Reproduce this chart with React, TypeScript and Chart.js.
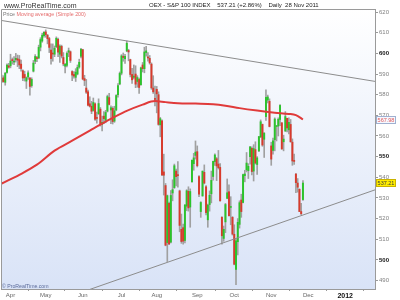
import React, { useEffect, useRef } from "react";
import { Chart, registerables } from "chart.js";

Chart.register(...registerables);

// First candle (25 Mar 2011) sits at trading-day index -5 (1 Apr 2011 = 0)
const firstIndex = -5;

const opens = [
  586.5, 588.2, 586.0, 590.8, 594.0,
  594.0, 596.6, 595.8, 597.0, 597.4, 597.0, 594.8, 591.6, 589.8, 586.6, 588.6, 588.0, 584.4, 591.4, 596.2, 598.0, 597.8, 603.0, 606.0, 608.6,
  610.4, 608.8, 607.2, 601.6, 600.0, 599.6, 603.2, 606.8, 599.6, 603.4, 598.0, 593.8, 594.2, 600.6, 600.8, 591.2, 589.8, 588.4, 590.0, 593.4, 598.6,
  601.8, 587.8, 583.2, 581.4, 575.6, 574.4, 572.4, 575.6, 568.6, 570.8, 573.0, 565.6, 569.6, 567.6, 572.0, 578.6, 572.6, 573.4, 567.2, 572.6, 580.0, 585.2,
  590.4, 598.6, 597.4, 601.2, 601.4, 597.0, 589.8, 588.4, 590.0, 586.4, 587.4, 584.8, 594.4, 592.6, 600.4, 598.0, 597.6, 594.8, 583.2, 578.0,
  582.6, 580.0, 565.4, 567.4, 542.6, 536.0, 508.4, 527.4, 508.6, 532.4, 535.0, 543.0, 541.0, 533.4, 514.8, 515.6, 509.4, 526.0, 533.2, 525.6, 537.8, 546.6, 550.6,
  552.4, 540.4, 523.4, 531.0, 542.4, 535.4, 519.4, 526.8, 532.0, 540.4, 547.6, 549.0, 546.4, 544.8, 520.6, 510.4, 518.4, 529.8, 533.0, 525.4, 520.6,
  512.4, 495.4, 508.8, 517.2, 529.0, 527.8, 540.8, 543.6, 543.2, 550.0, 554.0, 543.0, 553.4, 546.2, 552.8, 559.6, 565.6, 558.4, 569.4, 577.4, 576.8,
  555.2, 553.0, 558.2, 564.6, 564.8, 568.0, 566.4, 557.2, 562.4, 568.6, 563.0, 565.6, 557.0, 548.0, 541.6, 537.2, 534.2, 523.4, 529.2,
];

const highs = [
  589.5, 589.2, 590.8, 595.0, 595.2,
  599.6, 597.8, 598.4, 600.0, 599.2, 599.0, 596.8, 592.0, 591.4, 588.6, 591.6, 588.4, 588.2, 596.6, 599.4, 598.6, 604.0, 607.6, 609.8, 610.6,
  611.4, 609.2, 607.8, 604.6, 604.6, 603.6, 608.0, 607.4, 604.2, 604.0, 600.4, 595.2, 600.8, 602.6, 601.2, 591.6, 591.2, 592.6, 594.4, 597.2, 602.4,
  602.0, 589.4, 587.4, 582.2, 579.0, 576.8, 578.4, 576.0, 571.6, 578.0, 573.8, 569.6, 571.8, 572.4, 579.8, 580.6, 574.6, 574.2, 574.4, 580.0, 585.4, 591.0,
  599.4, 600.2, 599.6, 606.0, 602.0, 597.2, 592.8, 594.4, 594.0, 589.2, 588.0, 593.4, 595.6, 603.0, 603.4, 600.4, 599.0, 595.4, 589.2, 584.2,
  584.0, 581.4, 569.0, 567.8, 551.2, 537.0, 531.4, 528.0, 533.6, 538.8, 546.4, 544.0, 547.6, 533.8, 522.2, 517.4, 526.8, 534.0, 535.4, 534.4, 548.4, 551.6, 557.6,
  555.2, 540.8, 528.2, 543.0, 546.0, 536.0, 527.0, 533.4, 543.0, 547.8, 551.4, 549.6, 553.0, 546.6, 521.0, 516.4, 527.4, 539.2, 536.4, 530.6, 521.0,
  517.0, 510.4, 520.0, 528.6, 531.8, 541.6, 543.4, 552.0, 546.6, 555.0, 554.8, 555.8, 557.2, 550.0, 559.8, 567.8, 565.8, 561.6, 582.4, 579.8, 578.0,
  557.0, 559.0, 568.8, 564.6, 568.8, 575.2, 566.4, 560.4, 571.8, 568.6, 568.8, 568.0, 558.6, 551.2, 541.8, 539.4, 534.4, 527.4, 538.4,
];

const lows = [
  585.8, 586.0, 584.6, 590.4, 592.8,
  593.0, 594.8, 594.6, 595.8, 593.6, 592.6, 591.4, 586.8, 586.6, 583.0, 587.4, 579.8, 583.6, 591.0, 595.0, 596.0, 597.4, 601.2, 605.4, 607.8,
  607.8, 604.6, 600.4, 594.8, 596.2, 598.4, 602.8, 598.4, 595.6, 597.8, 594.0, 590.6, 593.4, 598.4, 595.6, 586.8, 588.0, 586.4, 589.6, 592.8, 597.8,
  587.2, 584.4, 580.6, 574.6, 574.0, 570.8, 572.0, 567.6, 566.2, 570.4, 564.8, 562.4, 566.0, 566.4, 571.6, 575.0, 566.0, 565.8, 566.6, 572.2, 578.8, 584.8,
  589.6, 596.2, 595.2, 600.8, 596.4, 588.6, 585.4, 587.6, 583.4, 583.6, 580.6, 584.6, 591.0, 590.6, 598.6, 596.2, 594.8, 582.6, 580.6, 574.6,
  571.2, 565.2, 559.6, 540.8, 531.4, 506.8, 499.2, 507.4, 508.2, 528.6, 534.6, 535.8, 535.2, 513.6, 508.0, 507.6, 508.2, 523.8, 523.6, 515.8, 537.6, 543.4, 548.8,
  545.0, 530.6, 520.6, 530.8, 536.8, 521.8, 515.8, 523.6, 527.6, 538.6, 545.8, 538.4, 544.0, 528.4, 507.6, 509.0, 513.2, 529.6, 521.2, 517.0, 512.0,
  497.6, 488.0, 502.4, 515.4, 520.6, 527.6, 537.8, 542.6, 539.4, 546.4, 541.2, 538.2, 546.4, 541.4, 552.4, 559.2, 555.0, 549.6, 567.6, 576.0, 564.4,
  545.8, 551.2, 552.8, 557.6, 560.0, 565.0, 553.6, 552.8, 562.2, 562.0, 561.0, 557.0, 545.8, 546.2, 532.6, 532.8, 523.4, 522.0, 528.8,
];

const closes = [
  587.9, 586.3, 590.4, 594.4, 593.3,
  596.3, 596.5, 596.3, 597.6, 596.7, 594.4, 592.7, 588.1, 588.2, 588.2, 590.6, 584.0, 587.4, 595.3, 598.5, 597.5, 602.9, 606.7, 608.8, 610.2,
  609.1, 607.1, 602.9, 597.5, 599.7, 602.5, 607.3, 600.6, 603.5, 598.7, 594.9, 594.7, 600.0, 601.3, 596.6, 589.5, 589.0, 590.9, 593.2, 595.7, 602.0,
  587.6, 586.9, 581.2, 574.9, 574.4, 572.0, 576.2, 568.1, 568.5, 575.7, 565.6, 566.6, 568.4, 571.4, 579.1, 575.3, 573.7, 567.0, 572.2, 579.6, 584.4, 590.3,
  598.8, 598.0, 598.6, 604.9, 600.7, 589.8, 587.2, 589.0, 585.1, 588.3, 583.5, 593.0, 592.6, 600.7, 601.2, 597.8, 595.4, 583.3, 581.4, 577.7,
  580.4, 565.6, 568.4, 541.2, 541.0, 507.1, 531.1, 507.7, 531.2, 534.0, 545.6, 540.3, 540.8, 516.7, 508.9, 509.1, 526.6, 533.5, 525.2, 533.1, 548.2, 549.4, 552.2,
  545.6, 531.8, 527.8, 543.0, 537.2, 522.9, 526.5, 531.3, 538.5, 547.7, 550.8, 545.5, 544.6, 528.6, 511.7, 514.8, 526.8, 532.5, 521.4, 525.7, 512.5,
  497.9, 509.2, 518.2, 527.7, 523.4, 541.3, 541.6, 546.9, 545.3, 554.7, 542.8, 553.9, 546.9, 549.4, 559.7, 566.9, 555.6, 561.4, 578.7, 578.9, 564.6,
  548.8, 557.7, 568.2, 564.6, 568.1, 574.8, 553.7, 558.5, 569.4, 563.9, 566.6, 557.2, 547.9, 547.7, 537.4, 535.2, 523.4, 522.3, 537.21,
];

// 200-day simple moving average, read at a few trading-day positions
const maIdx = [-5, 5, 15, 25, 35, 45, 55, 65, 75, 82, 88, 95, 105, 115, 122, 130, 140, 150, 158, 162, 166];
const maVals = [537.0, 541.2, 546.1, 552.9, 557.7, 562.6, 567.4, 571.8, 575.2, 576.9, 576.4, 575.9, 575.7, 575.4, 574.7, 573.5, 572.3, 571.3, 570.7, 570.1, 567.98];

// Trend lines (end points)
const upperTrendIdx = [-6.3, 207.2];
const upperTrendVals = [616.1, 586.4];
const lowerTrendIdx = [40, 207.2];
const lowerTrendVals = [484.2, 534.0];

// Axis ticks
const monthTickIdx = [0, 20, 41, 63, 83, 106, 127, 148, 169, 190];
const monthLabels = ["Apr", "May", "Jun", "Jul", "Aug", "Sep", "Oct", "Nov", "Dec", "2012"];
const yTickVals = [490, 500, 510, 520, 530, 540, 550, 560, 570, 580, 590, 600, 610, 620];

const lastPrice = 537.21;
const lastMA = 567.98;

const UP = "#2bc42b";
const DOWN = "#d83a2c";
const WICK = "#a0a0a0";
const FONT = "'Liberation Sans', Arial, sans-serif";

export default function App() {
  const canvasRef = useRef<HTMLCanvasElement | null>(null);

  useEffect(() => {
    const canvas = canvasRef.current;
    if (!canvas) return;

    const wicks = highs.map((h, i) => ({ x: firstIndex + i, y: [lows[i], h] }));
    const bodies = opens.map((o, i) => ({ x: firstIndex + i, y: [o, closes[i]] }));

    const bgPlugin = {
      id: "bgGradient",
      beforeDraw(chart: any) {
        const { ctx, chartArea } = chart;
        const g = ctx.createLinearGradient(0, chartArea.top, 0, chartArea.bottom);
        g.addColorStop(0, "#ffffff");
        g.addColorStop(1, "#d9e3f7");
        ctx.save();
        ctx.fillStyle = g;
        ctx.fillRect(chartArea.left, chartArea.top, chartArea.right - chartArea.left, chartArea.bottom - chartArea.top);
        ctx.restore();
      },
      afterDraw(chart: any) {
        const { ctx, chartArea } = chart;
        ctx.save();
        ctx.strokeStyle = "#9a9a9a";
        ctx.lineWidth = 1;
        ctx.beginPath();
        ctx.moveTo(chartArea.left + 0.5, chartArea.bottom);
        ctx.lineTo(chartArea.left + 0.5, chartArea.top + 0.5);
        ctx.lineTo(chartArea.right, chartArea.top + 0.5);
        ctx.stroke();
        // price boxes on the right axis
        const y = chart.scales.y;
        const boxes = [
          { v: lastMA, fill: "#f6f8ff", stroke: "#9fb0d0", color: "#e05858" },
          { v: lastPrice, fill: "#ffee00", stroke: "#c9b200", color: "#3a3a3a" },
        ];
        ctx.font = `5.5px ${FONT}`;
        ctx.textAlign = "center";
        ctx.textBaseline = "middle";
        for (const b of boxes) {
          const py = Math.round(y.getPixelForValue(b.v));
          ctx.fillStyle = b.fill;
          ctx.fillRect(376.5, py - 3.5, 19, 7);
          ctx.strokeStyle = b.stroke;
          ctx.strokeRect(376.5, py - 3.5, 19, 7);
          ctx.fillStyle = b.color;
          ctx.fillText(b.v.toFixed(2), 386, py + 0.5);
        }
        ctx.restore();
      },
    };

    const chart = new Chart(canvas, {
      type: "bar",
      data: {
        datasets: [
          {
            type: "line",
            data: maIdx.map((x, i) => ({ x, y: maVals[i] })),
            borderColor: "#e03a3a",
            borderWidth: 2,
            pointRadius: 0,
            cubicInterpolationMode: "monotone",
            order: 0,
          } as any,
          {
            type: "line",
            data: upperTrendIdx.map((x, i) => ({ x, y: upperTrendVals[i] })),
            borderColor: "#8c8c8c",
            borderWidth: 1,
            pointRadius: 0,
            order: 1,
          } as any,
          {
            type: "line",
            data: lowerTrendIdx.map((x, i) => ({ x, y: lowerTrendVals[i] })),
            borderColor: "#8c8c8c",
            borderWidth: 1,
            pointRadius: 0,
            order: 1,
          } as any,
          {
            type: "bar",
            data: bodies,
            backgroundColor: (ctx: any) => {
              const i = ctx.dataIndex;
              return closes[i] >= opens[i] ? UP : DOWN;
            },
            barThickness: 1.3,
            minBarLength: 1,
            grouped: false,
            order: 2,
          } as any,
          {
            type: "bar",
            data: wicks,
            backgroundColor: WICK,
            barThickness: 1,
            grouped: false,
            order: 3,
          } as any,
        ],
      },
      options: {
        responsive: false,
        animation: false,
        devicePixelRatio: 1,
        layout: { padding: { top: 9, left: 1, right: 0, bottom: 0 } },
        plugins: {
          legend: { display: false },
          tooltip: { enabled: false },
          title: { display: false },
        },
        scales: {
          x: {
            type: "linear",
            min: -5.4,
            max: 206.9,
            offset: false,
            grid: { display: true, drawOnChartArea: false, drawTicks: true, tickLength: 2, color: "#9a9a9a" },
            border: { display: true, color: "#9a9a9a" },
            afterBuildTicks: (s: any) => {
              s.ticks = monthTickIdx.map((v) => ({ value: v }));
            },
            afterFit: (s: any) => {
              s.height = 11;
            },
            ticks: {
              autoSkip: false,
              maxRotation: 0,
              padding: 1,
              color: (ctx: any) => (ctx.index === monthLabels.length - 1 ? "#111" : "#666"),
              font: (ctx: any) => ({
                family: FONT,
                size: ctx.index === monthLabels.length - 1 ? 7 : 6,
                weight: ctx.index === monthLabels.length - 1 ? "bold" : "normal",
              }),
              callback: (_v: any, i: number) => monthLabels[i],
            },
          } as any,
          y: {
            position: "right",
            min: 485.9,
            max: 621.5,
            grid: { display: true, drawOnChartArea: false, drawTicks: true, tickLength: 3, color: "#9a9a9a" },
            border: { display: true, color: "#9a9a9a" },
            afterBuildTicks: (s: any) => {
              s.ticks = yTickVals.map((v) => ({ value: v }));
            },
            afterFit: (s: any) => {
              s.width = 25;
            },
            ticks: {
              padding: 1,
              color: (ctx: any) => (ctx.tick && ctx.tick.value % 50 === 0 ? "#111" : "#808080"),
              font: (ctx: any) => ({
                family: FONT,
                size: 6,
                weight: ctx.tick && ctx.tick.value % 50 === 0 ? "bold" : "normal",
              }),
              callback: (v: any) => String(v),
            },
          } as any,
        },
      },
      plugins: [bgPlugin],
    });

    return () => chart.destroy();
  }, []);

  const overlay: React.CSSProperties = {
    position: "absolute",
    whiteSpace: "pre",
    fontFamily: FONT,
    pointerEvents: "none",
    lineHeight: 1,
  };

  return (
    <div style={{ position: "absolute", left: 0, top: 0, width: 400, height: 300, background: "#fff", overflow: "hidden" }}>
      <canvas ref={canvasRef} width={400} height={300} style={{ display: "block", width: 400, height: 300 }} />
      <div style={{ ...overlay, left: 4, top: 1.5, fontSize: 7, color: "#333" }}>www.ProRealTime.com</div>
      <div style={{ ...overlay, left: 149, top: 2, fontSize: 6, color: "#222" }}>
        {"OEX - S&P 100 INDEX    537.21 (+2.86%)    Daily  28 Nov 2011"}
      </div>
      <div style={{ ...overlay, left: 3, top: 11.5, fontSize: 5.3 }}>
        <span style={{ color: "#777" }}>Price </span>
        <span style={{ color: "#e56a6a" }}>Moving average (Simple 200)</span>
      </div>
      <div style={{ ...overlay, left: 2, top: 283.5, fontSize: 5.2, color: "#5a6a9a" }}>© ProRealTime.com</div>
    </div>
  );
}
